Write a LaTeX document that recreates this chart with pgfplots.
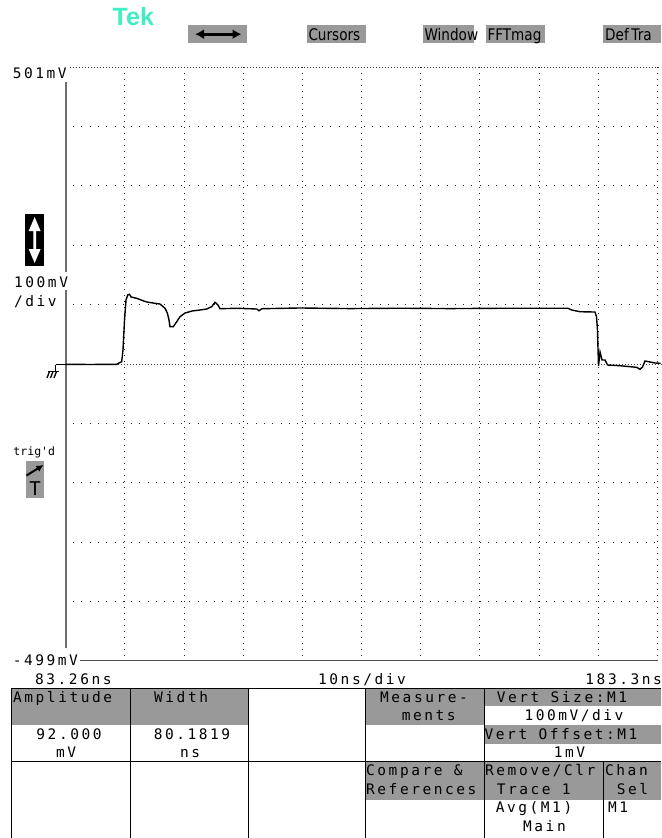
\documentclass[border=0pt]{standalone}
\usepackage{pgfplots}
\pgfplotsset{compat=1.18}
\usetikzlibrary{arrows.meta}
\usepackage{fontspec}
\setmainfont{DejaVu Sans}
\newfontfamily\osc[LetterSpace=17.5]{DejaVu Sans Mono}
\newfontfamily\oscplain{DejaVu Sans Mono}
\newfontfamily\btn[FakeStretch=0.85]{DejaVu Sans}
\newfontfamily\tekfont{Liberation Sans}
\definecolor{tekgreen}{RGB}{64,238,196}
\definecolor{panel}{RGB}{153,153,153}
\definecolor{axisgray}{RGB}{110,110,110}

% averaged pulse, channel M1 (time in ns, level in mV)
\pgfplotstableread{
t v
83.26 0.5
87.37 0.2
91.88 0.5
92.27 2.7
92.72 4.9
92.94 24.6
93.20 75.1
93.45 108.9
93.74 117.3
94.04 118.5
94.29 114.0
95.26 111.7
96.32 107.7
96.95 105.5
98.35 103.3
99.19 102.1
100.04 94.9
100.43 87.0
100.72 75.1
100.88 63.9
101.44 63.9
102.02 72.3
102.57 80.7
103.42 86.9
104.60 90.3
105.95 92.0
107.09 93.7
107.93 97.6
108.49 105.0
108.99 100.5
109.32 94.2
112.16 94.9
115.54 93.7
115.92 90.8
116.43 94.2
122.85 95.4
131.30 94.4
139.75 95.0
148.20 94.4
156.65 94.9
168.14 94.9
168.76 92.0
170.17 89.1
172.70 88.6
172.95 80.7
173.12 58.3
173.21 24.6
173.29 -2.4
173.55 21.2
173.89 7.7
174.39 7.7
174.82 -0.7
176.93 -1.9
179.75 -4.6
180.31 -8.0
180.73 -4.0
181.15 6.1
181.99 4.4
182.84 2.7
183.77 2.2
}\pulse

\tikzset{
  osc/.style={inner sep=0pt, font=\osc\fontsize{14.5bp}{16bp}\selectfont},
  btn/.style={inner sep=0pt, font=\btn\fontsize{16bp}{18bp}\selectfont},
  vgrid/.style={black!85, line width=1bp, dash pattern=on 1bp off 5bp},
  hgrid/.style={black!85, line width=1bp, dash pattern=on 1bp off 7.3bp},
  dense/.style={black!75, line width=1bp, dash pattern=on 1bp off 2bp},
}

\begin{document}
\begin{tikzpicture}
\begin{scope}[x=1bp,y=-1bp]
\useasboundingbox (0,0) rectangle (661,838);

% logo and soft keys
\node[anchor=base west, inner sep=0pt, text=tekgreen,
      font=\tekfont\bfseries\fontsize{25bp}{25bp}\selectfont] at (112.5,25) {Tek};
\fill[panel] (188.3,25) rectangle (247.3,43.3);
\draw[line width=2.6bp, {Latex[length=9bp,width=10bp]}-{Latex[length=9bp,width=10bp]}] (195,34.2) -- (241.5,34.2);
\fill[panel] (306.7,25) rectangle (365.7,43.3);
\node[btn, anchor=base west] at (308.3,40) {Cursors};
\fill[panel] (423,25) rectangle (474.3,43.3);
\node[btn, anchor=base west] at (424.3,40) {Window};
\fill[panel] (486,25) rectangle (545,43.3);
\node[btn, anchor=base west] at (487.3,40) {FFTmag};
\fill[panel] (603,25) rectangle (661,43.3);
\node[btn, anchor=base west] at (605,40) {Def\,Tra};

% left side annotations
\draw[axisgray, line width=2bp] (65.7,81.7) -- (65.7,272);
\draw[axisgray, line width=2bp] (65.7,290) -- (65.7,648);
\node[osc, anchor=base west] at (12.7,78.3) {501mV};
\fill[black] (25,214) rectangle (44.3,266);
\fill[white] (34.65,217) -- (40.6,231) -- (36,231) -- (36,249) -- (40.6,249) -- (34.65,263)
  -- (28.7,249) -- (33.3,249) -- (33.3,231) -- (28.7,231) -- cycle;
\node[osc, anchor=base west] at (14,287) {100mV};
\node[osc, anchor=base west] at (14,306) {/div};
% ground reference marker
\draw[black, line width=1.3bp] (55.5,364.6) -- (66,364.6);
\draw[black, line width=1.6bp] (55.5,364.6) -- (55.5,371.5);
\draw[black, line width=1.6bp] (47.5,371.5) -- (58.5,371.5);
\draw[black, line width=1.3bp] (49.5,371.5) -- (47,378) (53,371.5) -- (50.5,378) (56.5,371.5) -- (54,378);
% trigger state
\node[inner sep=0pt, anchor=base west, font=\oscplain\fontsize{11.5bp}{12bp}\selectfont] at (13.3,455) {trig'd};
\fill[panel] (25.7,460.7) rectangle (44.3,498.3);
\draw[line width=2bp, -{Latex[length=7bp,width=7bp]}] (26.5,475.5) -- (43.5,465);
\node[inner sep=0pt, anchor=base, font=\oscplain\fontsize{19bp}{19bp}\selectfont] at (35,495) {T};

% bottom scale annotations
\node[osc, anchor=base west] at (12.7,665) {-499mV};
\draw[black!70, line width=1.2bp] (80,660.7) -- (657.5,660.7);
\node[osc, anchor=base west] at (35,684) {83.26ns};
\node[osc, anchor=base west] at (318,684) {10ns/div};
\node[osc, anchor=base east] at (662,684) {183.3ns};

% measurement panel
\fill[panel] (11.7,688.3) rectangle (130,725);
\fill[panel] (130,688.3) rectangle (248.3,725);
\fill[panel] (365,688.3) rectangle (484,725);
\fill[panel] (484,688.3) rectangle (661,706);
\fill[panel] (484,725) rectangle (661,743.5);
\fill[panel] (365,761.7) rectangle (484,800);
\fill[panel] (484,761.7) rectangle (603,800);
\fill[panel] (603,761.7) rectangle (661,800);
\draw[black, line width=1bp] (11.7,688.3) -- (661,688.3) (11.7,761.7) -- (661,761.7);
\foreach \c in {11.7,130,248.3,365,484} {\draw[black, line width=1bp] (\c,688.3) -- (\c,838);}
\draw[black, line width=1bp] (603,761.7) -- (603,838);

\node[osc, anchor=base west] at (13,702) {Amplitude};
\node[osc, anchor=base west] at (154,702) {Width};
\node[osc, anchor=base] at (69,739) {92.000};
\node[osc, anchor=base] at (66,757.5) {mV};
\node[osc, anchor=base] at (192,739) {80.1819};
\node[osc, anchor=base] at (190,757.5) {ns};
\node[osc, anchor=base west] at (380,702) {Measure-};
\node[osc, anchor=base west] at (401.7,720.5) {ments};
\node[osc, anchor=base west] at (496.7,702) {Vert Size:M1};
\node[osc, anchor=base] at (574,720.5) {100mV/div};
\node[osc, anchor=base west] at (484.5,739) {Vert Offset:M1};
\node[osc, anchor=base] at (569.5,757.5) {1mV};
\node[osc, anchor=base west] at (366,775.7) {Compare \&};
\node[osc, anchor=base west] at (366,794.2) {References};
\node[osc, anchor=base west] at (485,775.7) {Remove/Clr};
\node[osc, anchor=base west] at (496.7,794.2) {Trace 1};
\node[osc, anchor=base west] at (495.7,812.7) {Avg(M1)};
\node[osc, anchor=base west] at (523,831.2) {Main};
\node[osc, anchor=base west] at (605,775.7) {Chan};
\node[osc, anchor=base west] at (616.7,794.2) {Sel};
\node[osc, anchor=base west] at (608,812.7) {M1};
\end{scope}

\begin{axis}[
  at={(65.7bp,-660.7bp)}, anchor=south west,
  width=591.8bp, height=593.4bp, scale only axis,
  xmin=83.26, xmax=183.26, ymin=-499, ymax=501,
  axis line style={draw=none}, ticks=none,
  clip=false,
]
% graticule
\pgfplotsinvokeforeach{93.26,103.26,113.26,123.26,133.26,143.26,153.26,163.26,173.26,183.26}{
  \draw[vgrid] (axis cs:#1,501) -- (axis cs:#1,-490);
}
\pgfplotsinvokeforeach{-399,-299,-199,-99,101,201,301,401}{
  \draw[hgrid] (axis cs:84.5,#1) -- (axis cs:183.7,#1);
}
\draw[dense] (axis cs:84,501) -- (axis cs:183.8,501);
\draw[dense] (axis cs:83.4,0) -- (axis cs:183.8,0);
\addplot[black, line width=1.4bp, no marks] table[x=t, y=v] {\pulse};
\end{axis}
\end{tikzpicture}
\end{document}
